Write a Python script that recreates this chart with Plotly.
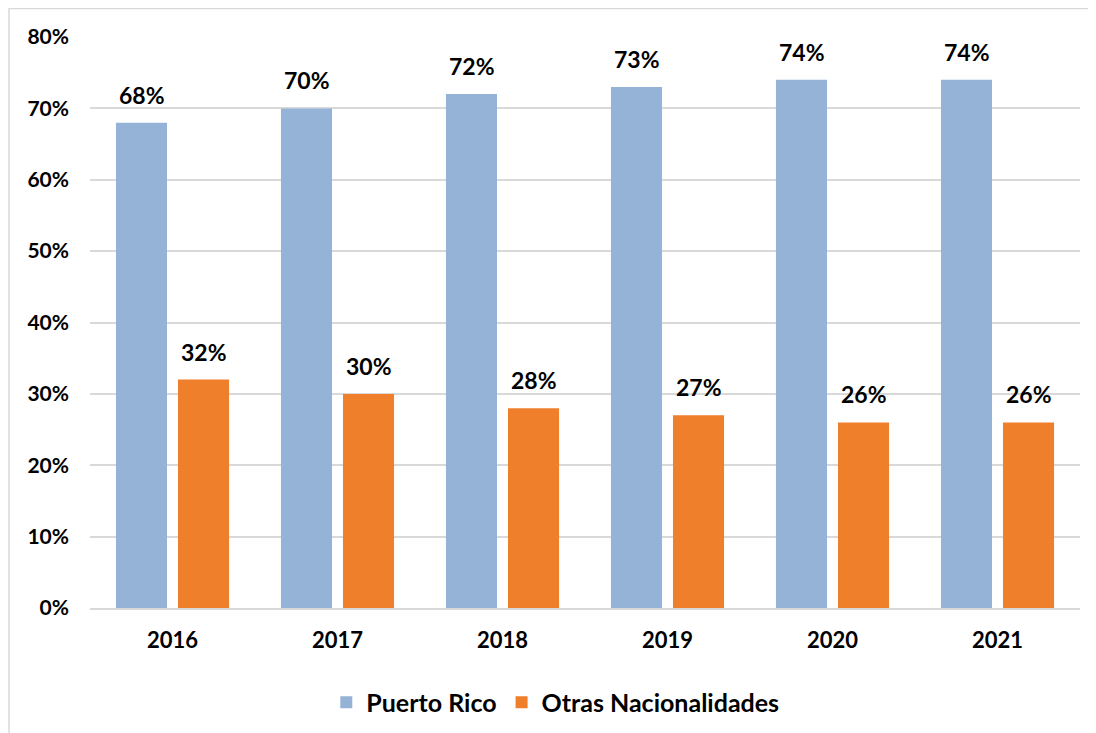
import plotly.graph_objects as go

years = ["2016", "2017", "2018", "2019", "2020", "2021"]
puerto_rico = [0.68, 0.70, 0.72, 0.73, 0.74, 0.74]
otras = [0.32, 0.30, 0.28, 0.27, 0.26, 0.26]
y_ticks = [0, 0.1, 0.2, 0.3, 0.4, 0.5, 0.6, 0.7, 0.8]
y_tick_labels = ["0%", "10%", "20%", "30%", "40%", "50%", "60%", "70%", "80%"]

FONT = "Lato, 'Open Sans', sans-serif"

fig = go.Figure()
fig.add_trace(go.Bar(
    x=years, y=puerto_rico, name="Puerto Rico",
    marker=dict(color="#95B3D7", line=dict(width=0)),
))
fig.add_trace(go.Bar(
    x=years, y=otras, name="Otras Nacionalidades",
    marker=dict(color="#F07F2C", line=dict(width=0)),
))

# data labels above bars, offset to each bar's centre within the group
annotations = []
for series, shift in ((puerto_rico, -31), (otras, 31.5)):
    for i, v in enumerate(series):
        annotations.append(dict(
            x=i, y=v, xref="x", yref="y", text=f"{round(v*100)}%",
            showarrow=False, xanchor="center", yanchor="bottom",
            xshift=shift, yshift=12,
            font=dict(family=FONT, size=23, color="#000000", weight="bold"),
        ))

fig.update_layout(
    width=1096, height=733,
    margin=dict(l=82, r=24, t=29, b=133),
    paper_bgcolor="white", plot_bgcolor="white",
    barmode="group", bargap=0.248, bargroupgap=0.177,
    font=dict(family=FONT, color="#000000"),
    showlegend=True,
    legend=dict(orientation="h", x=0.47, xanchor="center", y=-0.125, yanchor="top",
                font=dict(family=FONT, size=25, color="#000000", weight="bold"),
                itemwidth=30, traceorder="normal"),
    annotations=annotations,
    shapes=[dict(type="rect", xref="paper", yref="paper",
                 x0=-0.0818, x1=1.05, y0=-0.3, y1=1.0498,
                 line=dict(color="#D9D9D9", width=1.5), fillcolor="rgba(0,0,0,0)", layer="below")],
)
fig.update_xaxes(
    type="category", categoryorder="array", categoryarray=years,
    range=[-0.5, len(years) - 0.5],
    showgrid=False, ticks="", showline=True, linecolor="#D9D9D9", linewidth=1.5,
    tickfont=dict(family=FONT, size=22, color="#000000", weight="bold"),
    ticklabelstandoff=12,
)
fig.update_yaxes(
    range=[0, 0.8], tickvals=y_ticks, ticktext=y_tick_labels,
    showgrid=True, gridcolor="#D9D9D9", gridwidth=1.5, zeroline=False,
    showline=False, ticks="", ticklabelstandoff=20,
    tickfont=dict(family=FONT, size=21, color="#000000", weight="bold"),
)

fig.write_html("out.html")
